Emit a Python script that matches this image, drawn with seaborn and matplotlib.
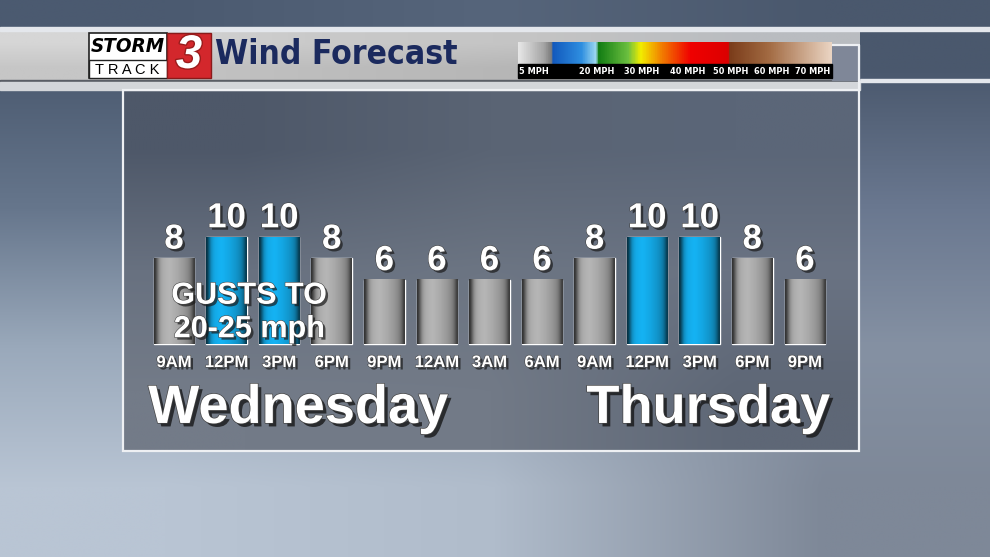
import numpy as np
import pandas as pd
import matplotlib
matplotlib.use("Agg")
import matplotlib.pyplot as plt
import matplotlib.patheffects as pe
from matplotlib import font_manager
from matplotlib.colors import LinearSegmentedColormap, to_rgb
from matplotlib.patches import Rectangle
import seaborn as sns

TIMES = ['9AM', '12PM', '3PM', '6PM', '9PM', '12AM', '3AM', '6AM',
         '9AM', '12PM', '3PM', '6PM', '9PM']
SPEEDS = [8, 10, 10, 8, 6, 6, 6, 6, 8, 10, 10, 8, 6]
DAYS = ['Wednesday'] * 5 + ['Thursday'] * 8
DAY_NAMES = ['Wednesday', 'Thursday']
GUST_NOTE = 'GUSTS TO\n20-25 mph'
LEGEND_LABELS = ['5 MPH', '20 MPH', '30 MPH', '40 MPH', '50 MPH', '60 MPH', '70 MPH']

df = pd.DataFrame({
    'slot': [f'{d} {t}' for d, t in zip(DAYS, TIMES)],
    'mph': SPEEDS,
    'band': ['gusty' if s >= 10 else 'calm' for s in SPEEDS],
})
BAND_COLORS = {'calm': '#b0b0b0', 'gusty': '#14adec'}

sns.set_style('white')
plt.rcParams['font.family'] = ['Liberation Sans', 'DejaVu Sans']

# a condensed face for the header, if one is around
cond = font_manager.FontProperties(family='DejaVu Sans', stretch='condensed', weight='bold')
if 'Condensed' in font_manager.findfont(cond, fallback_to_default=False):
    NARROW = dict(family='DejaVu Sans', fontstretch='condensed')
else:
    NARROW = dict(family='Liberation Sans')

fig = plt.figure(figsize=(9.9, 5.57), dpi=100)

# ---- background layer in pixel coords (y down) ----
bg = fig.add_axes([0, 0, 1, 1])


def grad(ax, colors, extent, z):
    arr = np.array([[to_rgb(c) for c in row] for row in colors])
    ax.imshow(arr, extent=extent, aspect='auto', interpolation='bilinear', zorder=z)


def fit_width(txt, target):
    r = fig.canvas.get_renderer()
    w = txt.get_window_extent(r).width
    txt.set_fontsize(txt.get_fontsize() * target / w)


# sky
grad(bg, [['#4b5a70', '#56657b', '#4a586d'],
          ['#66768c', '#6e7d92', '#6a7890'],
          ['#9aa9bb', '#93a1b3', '#8591a3'],
          ['#b9c5d4', '#b0bccb', '#7e8898']], (0, 990, 557, 0), 0)

# header bar
grad(bg, [['#d6d6d6', '#c9c9c9', '#c4c4c4', '#b9bcc0'],
          ['#c6c6c6', '#bdbdbd', '#b5b5b5', '#aeb2b8']], (0, 860, 80, 31), 1)
bg.add_patch(Rectangle((0, 27), 990, 3.5, color='#e4e7ec', zorder=2))
bg.add_patch(Rectangle((0, 80), 860, 1.5, color='#5a5e66', zorder=2))
bg.add_patch(Rectangle((0, 81.5), 860, 8.5, color='#d3d6da', zorder=2))
bg.add_patch(Rectangle((860, 79), 130, 2.5, color='#e4e7ec', zorder=2))

# logo
bg.add_patch(Rectangle((89, 33), 78, 45, facecolor='white', edgecolor='#222222', lw=1.2, zorder=3))
bg.add_patch(Rectangle((89, 60), 78, 18, facecolor='white', edgecolor='#222222', lw=1.0, zorder=3))
storm = bg.text(128, 47, 'STORM', ha='center', va='center', fontsize=19, fontweight='bold',
                style='italic', color='black', zorder=4, **NARROW)
fit_width(storm, 74)
bg.text(127, 70, 'T R A C K', ha='center', va='center', fontsize=10.5, color='black', zorder=4)
bg.add_patch(Rectangle((167, 33), 44, 45, facecolor='#d3272c', edgecolor='#8a1a1a', lw=1, zorder=3))
bg.text(189, 56, '3', ha='center', va='center', fontsize=34, fontweight='bold', style='italic',
        color='white', zorder=4,
        path_effects=[pe.Stroke(linewidth=2, foreground='#9a1c1c'), pe.Normal()])
title = bg.text(215, 55, 'Wind Forecast', ha='left', va='center', fontsize=32, fontweight='bold',
                color='#1b2a5e', zorder=4, **NARROW)
fit_width(title, 243)

# colour scale
bg.add_patch(Rectangle((832, 45), 27, 35, color='#7f8798', zorder=2))
scale = LinearSegmentedColormap.from_list('wind', [
    (0.0, '#e6e6e6'), (0.08, '#a4a4a4'), (0.105, '#7a7a7a'), (0.107, '#1258bc'),
    (0.2, '#2e8ee0'), (0.25, '#a6def2'), (0.252, '#0f7a12'), (0.35, '#6cc040'),
    (0.39, '#f2ee00'), (0.46, '#f27a00'), (0.55, '#f00000'), (0.67, '#dc0000'),
    (0.675, '#7a3c1a'), (0.8, '#a26a42'), (1.0, '#ead4c2')])
bg.imshow(np.linspace(0, 1, 400)[None, :], cmap=scale, extent=(518, 832, 64, 42),
          aspect='auto', zorder=3)
bg.add_patch(Rectangle((518, 64), 314, 14, color='black', zorder=3))
for lab, px in zip(LEGEND_LABELS, [534, 597, 642, 688, 731, 772, 813]):
    bg.text(px, 71.5, lab, ha='center', va='center', fontsize=6.6, fontweight='bold',
            color='white', zorder=4, **NARROW)

# panel
grad(bg, [['#4e5869', '#5a6474', '#5b6678'],
          ['#687180', '#6c7583', '#6a7383'],
          ['#737b88', '#727a87', '#5e6776']], (123, 859, 451, 90), 1)
bg.add_patch(Rectangle((123, 90), 736, 361, fill=False, edgecolor='#eef0f3', lw=1.6, zorder=2))
bg.plot([859, 859], [45, 90], color='#eef0f3', lw=1.6, zorder=2)
bg.plot([832, 859], [45, 45], color='#eef0f3', lw=1.6, zorder=2)

bg.set_xlim(0, 990)
bg.set_ylim(557, 0)
bg.axis('off')

# ---- bar chart ----
ax = fig.add_axes([123 / 990, (557 - 451) / 557, (859 - 123) / 990, (451 - 90) / 557])
ax.patch.set_alpha(0)
sns.barplot(data=df, x='slot', y='mph', hue='band', hue_order=['calm', 'gusty'],
            palette=BAND_COLORS, dodge=False, width=0.77, legend=False, ax=ax)

profile = np.array([0.3, 0.55, 0.8, 0.92, 0.98, 1.0, 1.02, 1.03, 1.02, 1.0,
                    0.98, 0.96, 0.93, 0.9, 0.87, 0.83, 0.78, 0.7, 0.55, 0.35])
shadow = [pe.SimplePatchShadow(offset=(1.8, -1.8), shadow_rgbFace='#1a1a1a', alpha=0.7),
          pe.Stroke(linewidth=0.8, foreground='#444444'), pe.Normal()]

for cont, band in zip(ax.containers, ['calm', 'gusty']):
    base = np.array(to_rgb(BAND_COLORS[band]))
    for bar in cont:
        x0, w, h = bar.get_x(), bar.get_width(), bar.get_height()
        shade = np.clip(profile[None, :, None] * base, 0, 1)
        ax.imshow(shade, extent=(x0, x0 + w, 0, h), aspect='auto',
                  interpolation='bilinear', zorder=3)
    ax.bar_label(cont, fmt='%g', padding=2, fontsize=25, fontweight='bold',
                 color='white', zorder=5, path_effects=shadow)

for i, t in enumerate(TIMES):
    ax.text(i, -2.15, t, ha='center', va='baseline', fontsize=12, fontweight='bold',
            color='white', zorder=5, path_effects=shadow)

for name, xc in zip(DAY_NAMES, [2.36, 10.16]):
    ax.text(xc, -7.38, name, ha='center', va='baseline', fontsize=39, fontweight='bold',
            color='white', zorder=5,
            path_effects=[pe.SimplePatchShadow(offset=(2.5, -2.5), shadow_rgbFace='#111111', alpha=0.75),
                          pe.Stroke(linewidth=1.0, foreground='#444444'), pe.Normal()])

ax.text(1.43, 2.95, GUST_NOTE, ha='center', va='center', fontsize=22, fontweight='bold',
        color='white', linespacing=1.15, zorder=6, path_effects=shadow)

ax.set_xlim(-0.97, 13.03)
ax.set_ylim(-10, 23.74)
ax.axis('off')

fig.savefig('out.png', dpi=100)
